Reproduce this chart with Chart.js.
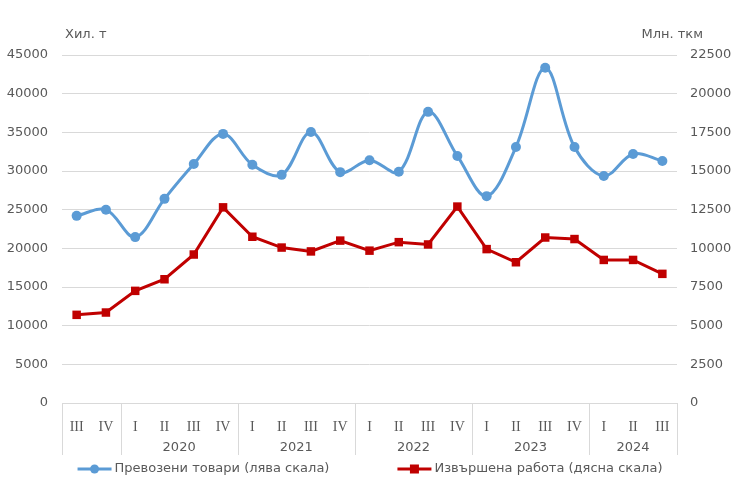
<!DOCTYPE html>
<html>
<head>
<meta charset="utf-8">
<script src="https://cdn.jsdelivr.net/npm/chart.js@4.4.1/dist/chart.umd.min.js"></script>
<style>
  html, body { margin: 0; padding: 0; background: #fff; }
  #wrap { width: 740px; height: 489px; position: relative; }
</style>
</head>
<body>
<div id="wrap"><canvas id="chartCanvas" width="740" height="489"></canvas></div>
<script>
// quarters along the x axis (2019 III .. 2024 III)
const quarters = ['III', 'IV', 'I', 'II', 'III', 'IV', 'I', 'II', 'III', 'IV', 'I', 'II', 'III', 'IV', 'I', 'II', 'III', 'IV', 'I', 'II', 'III'];
// year groups under the quarters: label, first index, last index
const yearLabels = ['', '2020', '2021', '2022', '2023', '2024'];
const yearStart = [0, 2, 6, 10, 14, 18];
const yearEnd = [1, 5, 9, 13, 17, 20];

// Превозени товари, хил. т (left scale)
const goods = [24200, 25000, 21450, 26400, 30900, 34800, 30800, 29500, 35050, 29850, 31400, 29900, 37650, 31950, 26750, 33100, 43350, 33100, 29350, 32200, 31300];
// Извършена работа, млн. ткм (right scale)
const work = [5700, 5850, 7250, 8000, 9600, 12650, 10750, 10050, 9800, 10500, 9850, 10400, 10250, 12700, 9950, 9100, 10700, 10600, 9250, 9250, 8350];

const leftTicks = { min: 0, max: 45000, step: 5000 };
const rightTicks = { min: 0, max: 22500, step: 2500 };

const blue = '#5b9bd5';
const red = '#c00000';
const gray = '#595959';
const gridGray = '#d9d9d9';
const sans = '"DejaVu Sans", Verdana, sans-serif';

const canvas = document.getElementById('chartCanvas');
const ctx = canvas.getContext('2d');

// titles above the two value axes, year row, category separators, legend
const extrasPlugin = {
  id: 'extras',
  afterDraw(chart) {
    const c = chart.ctx;
    const area = chart.chartArea;
    const x = chart.scales.x;
    const step = x.getPixelForValue(1) - x.getPixelForValue(0);
    c.save();

    c.font = '13px ' + sans;
    c.fillStyle = gray;
    c.textBaseline = 'middle';
    c.textAlign = 'left';
    c.fillText('Хил. т', area.left + 3, area.top - 20);
    c.textAlign = 'right';
    c.fillText('Млн. ткм', chart.width - 37, area.top - 20);

    // separators between year groups
    const edge = i => x.getPixelForValue(i) - step / 2;
    const bounds = [edge(0)].concat(yearEnd.map(e => edge(e + 1)));
    c.strokeStyle = gridGray;
    c.lineWidth = 1;
    bounds.forEach(bx => {
      const px = Math.round(bx) + 0.5;
      c.beginPath();
      c.moveTo(px, area.bottom);
      c.lineTo(px, area.bottom + 52);
      c.stroke();
    });

    // year labels
    c.textAlign = 'center';
    c.font = '13px ' + sans;
    yearLabels.forEach((lbl, i) => {
      if (!lbl) return;
      const cx = (edge(yearStart[i]) + edge(yearEnd[i] + 1)) / 2;
      c.fillText(lbl, cx, area.bottom + 45);
    });

    // legend
    const ly = area.bottom + 66;
    c.font = '13px ' + sans;
    const items = [
      { text: 'Превозени товари (лява скала)', color: blue, marker: 'circle' },
      { text: 'Извършена работа (дясна скала)', color: red, marker: 'rect' }
    ];
    const icon = 34, gap = 3, spacing = 68;
    const widths = items.map(it => icon + gap + c.measureText(it.text).width);
    let lx = (chart.width - (widths[0] + widths[1] + spacing)) / 2;
    items.forEach((it, i) => {
      c.strokeStyle = it.color;
      c.fillStyle = it.color;
      c.lineWidth = 3;
      c.beginPath();
      c.moveTo(lx, ly);
      c.lineTo(lx + icon, ly);
      c.stroke();
      const mx = lx + icon / 2;
      if (it.marker === 'circle') {
        c.beginPath();
        c.arc(mx, ly, 4.5, 0, Math.PI * 2);
        c.fill();
      } else {
        c.fillRect(mx - 4.5, ly - 4.5, 9, 9);
      }
      c.fillStyle = gray;
      c.textAlign = 'left';
      c.fillText(it.text, lx + icon + gap, ly);
      lx += widths[i] + spacing;
    });
    c.restore();
  }
};

const chart = new Chart(ctx, {
  type: 'line',
  data: {
    labels: quarters,
    datasets: [
      {
        label: 'Превозени товари (лява скала)',
        data: goods,
        yAxisID: 'y',
        borderColor: blue,
        backgroundColor: blue,
        borderWidth: 3,
        tension: 0.35,
        pointStyle: 'circle',
        pointRadius: 5,
        pointBorderWidth: 0,
        fill: false
      },
      {
        label: 'Извършена работа (дясна скала)',
        data: work,
        yAxisID: 'y1',
        borderColor: red,
        backgroundColor: red,
        borderWidth: 3,
        tension: 0,
        pointStyle: 'rect',
        pointRadius: 6,
        pointBorderWidth: 0,
        fill: false
      }
    ]
  },
  options: {
    responsive: false,
    animation: false,
    layout: { padding: { top: 55, bottom: 34, left: 0, right: 0 } },
    plugins: {
      legend: { display: false },
      tooltip: { enabled: false }
    },
    scales: {
      x: {
        offset: true,
        grid: { display: false },
        border: { display: true, color: gridGray, width: 1 },
        ticks: {
          color: gray,
          font: { family: '"Liberation Serif", "Times New Roman", serif', size: 14 },
          padding: 8,
          maxRotation: 0,
          autoSkip: false
        },
        afterFit(scale) { scale.height = 52; }
      },
      y: {
        position: 'left',
        min: leftTicks.min,
        max: leftTicks.max,
        grid: { color: gridGray, drawTicks: false },
        border: { display: false },
        ticks: {
          stepSize: leftTicks.step,
          color: gray,
          font: { family: sans, size: 13 },
          padding: 14,
          callback: v => String(v)
        },
        afterFit(scale) { scale.width = 62; }
      },
      y1: {
        position: 'right',
        min: rightTicks.min,
        max: rightTicks.max,
        grid: { display: false, drawTicks: false },
        border: { display: false },
        ticks: {
          stepSize: rightTicks.step,
          color: gray,
          font: { family: sans, size: 13 },
          padding: 13,
          callback: v => String(v)
        },
        afterFit(scale) { scale.width = 63; }
      }
    }
  },
  plugins: [extrasPlugin]
});
</script>
</body>
</html>
